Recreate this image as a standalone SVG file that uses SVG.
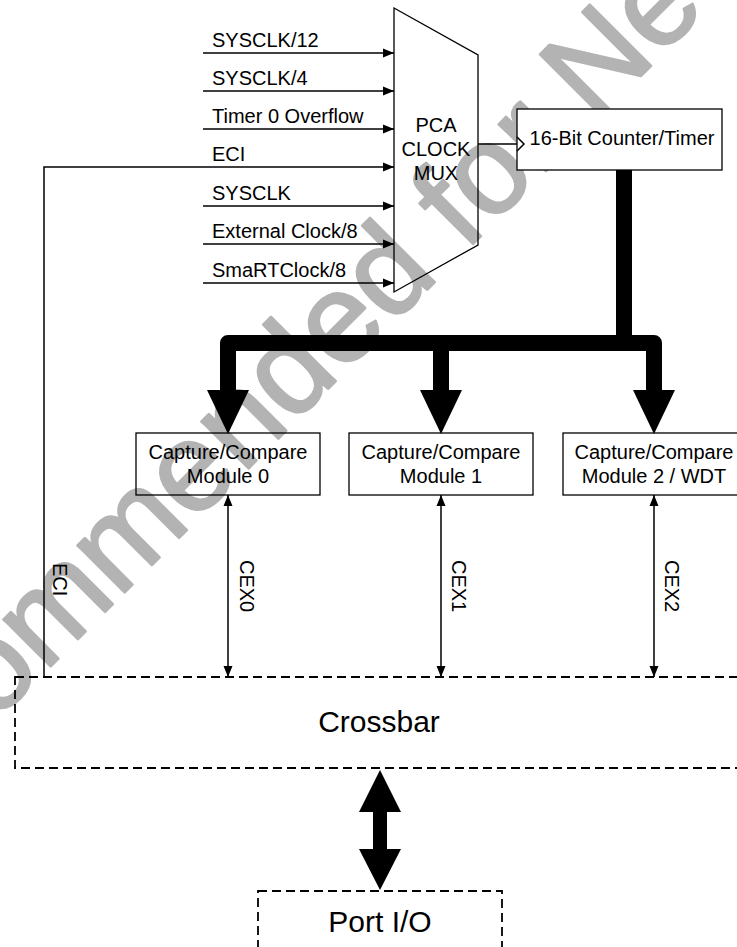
<svg xmlns="http://www.w3.org/2000/svg" width="737" height="947" viewBox="0 0 737 947">
<style>
text{font-family:"Liberation Sans",Arial,sans-serif;fill:#000}
.lbl{font-size:20px}
.big{font-size:30px}
.mid{text-anchor:middle}
.wm{font-size:126px;fill:#b3b3b3;stroke:#b3b3b3;stroke-width:2.5;stroke-linejoin:round}
.box{fill:none;stroke:#000;stroke-width:1.3}
.wbox{fill:#fff;stroke:#000;stroke-width:1.3}
.dash{fill:none;stroke:#000;stroke-width:1.8;stroke-dasharray:9,5}
.wire{fill:none;stroke:#000;stroke-width:1.5}
.bus{fill:none;stroke:#000;stroke-width:16;stroke-linejoin:round}
.head{fill:#000}
</style>
<defs>
<marker id="ah" markerUnits="userSpaceOnUse" markerWidth="11" markerHeight="10" refX="11" refY="5" orient="auto-start-reverse"><path d="M0,0.5 L11,5 L0,9.5 z" fill="#000"/></marker>
</defs>
<g id="watermark">
<text class="wm" x="-327" y="1044" transform="rotate(-45 -327 1044)">Not Recommended for New Designs</text>
</g>
<g id="connectors">
<path class="wire" d="M203,53 H394" marker-end="url(#ah)"/>
<path class="wire" d="M203,91 H394" marker-end="url(#ah)"/>
<path class="wire" d="M203,129 H394" marker-end="url(#ah)"/>
<path class="wire" d="M44,677 V167 H394" marker-end="url(#ah)"/>
<path class="wire" d="M203,206 H394" marker-end="url(#ah)"/>
<path class="wire" d="M203,244 H394" marker-end="url(#ah)"/>
<path class="wire" d="M203,283 H394" marker-end="url(#ah)"/>
<path class="wire" d="M478,144 H517"/>
<path class="bus" d="M624,170 V343"/>
<path class="bus" d="M228,392 V343 H654 V392"/>
<path class="bus" d="M441,343 V392"/>
<polygon class="head" points="207,390 249,390 228,434"/>
<polygon class="head" points="420,390 462,390 441,434"/>
<polygon class="head" points="633,390 675,390 654,434"/>
<path class="wire" d="M228,495 V677" marker-start="url(#ah)" marker-end="url(#ah)"/>
<path class="wire" d="M441,495 V677" marker-start="url(#ah)" marker-end="url(#ah)"/>
<path class="wire" d="M654,495 V677" marker-start="url(#ah)" marker-end="url(#ah)"/>
<polygon class="head" points="380,770 401,812 387,812 387,849 401,849 380,890 359,849 373,849 373,812 359,812"/>
</g>
<g id="input-labels">
<text class="lbl" x="212" y="47">SYSCLK/12</text>
<text class="lbl" x="212" y="85">SYSCLK/4</text>
<text class="lbl" x="212" y="123">Timer 0 Overflow</text>
<text class="lbl" x="212" y="161">ECI</text>
<text class="lbl" x="212" y="200">SYSCLK</text>
<text class="lbl" x="212" y="238">External Clock/8</text>
<text class="lbl" x="212" y="277">SmaRTClock/8</text>
</g>
<g id="mux">
<polygon class="box" points="394,8 478,55 478,245 394,292"/>
<text class="lbl mid" x="436" y="132">PCA</text>
<text class="lbl mid" x="436" y="156">CLOCK</text>
<text class="lbl mid" x="436" y="180">MUX</text>
</g>
<g id="counter">
<rect class="wbox" x="517" y="109" width="205" height="61"/>
<polyline class="wire" points="517,137 524,144 517,151"/>
<text class="lbl mid" x="622" y="145">16-Bit Counter/Timer</text>
</g>
<g id="module0">
<rect class="box" x="136" y="433" width="184" height="62"/>
<text class="lbl mid" x="228" y="459">Capture/Compare</text>
<text class="lbl mid" x="228" y="483">Module 0</text>
</g>
<g id="module1">
<rect class="box" x="349" y="433" width="184" height="62"/>
<text class="lbl mid" x="441" y="459">Capture/Compare</text>
<text class="lbl mid" x="441" y="483">Module 1</text>
</g>
<g id="module2">
<rect class="box" x="563" y="433" width="184" height="62"/>
<text class="lbl mid" x="654" y="459">Capture/Compare</text>
<text class="lbl mid" x="654" y="483">Module 2 / WDT</text>
</g>
<g id="signal-labels">
<text class="lbl" transform="translate(53,563) rotate(90)">ECI</text>
<text class="lbl" transform="translate(240,560) rotate(90)">CEX0</text>
<text class="lbl" transform="translate(452,560) rotate(90)">CEX1</text>
<text class="lbl" transform="translate(665,560) rotate(90)">CEX2</text>
</g>
<g id="crossbar">
<rect class="dash" x="15" y="677" width="760" height="91"/>
<text class="big mid" x="379" y="732">Crossbar</text>
</g>
<g id="portio">
<rect class="dash" x="258" y="891" width="244" height="100"/>
<text class="big mid" x="380" y="932">Port I/O</text>
</g>
</svg>
